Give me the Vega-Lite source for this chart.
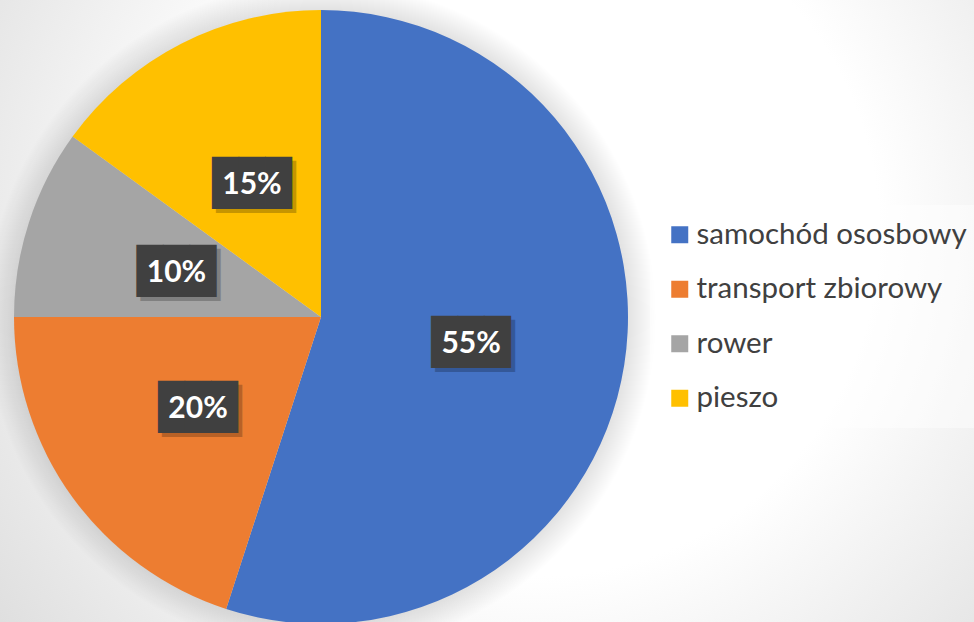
{
  "$schema": "https://vega.github.io/schema/vega-lite/v6.json",
  "width": 974,
  "height": 622,
  "autosize": {"type": "none"},
  "padding": 0,
  "background": "#ffffff",
  "config": {
    "view": {"stroke": null},
    "legend": {
      "orient": "none",
      "legendX": 650,
      "legendY": 205,
      "title": null,
      "symbolType": "square",
      "symbolSize": 289,
      "symbolStrokeWidth": 0,
      "labelFont": "Lato",
      "labelFontSize": 29.5,
      "labelColor": "#404040",
      "labelLimit": 400,
      "rowPadding": 23.5,
      "padding": 15,
      "labelOffset": 2,
      "fillColor": "rgba(255,255,255,0.45)"
    }
  },
  "layer": [
    {
      "data": {"values": [{}]},
      "mark": {
        "type": "rect",
        "fill": {
          "gradient": "radial",
          "x1": 0.55, "y1": 0.42, "r1": 0,
          "x2": 0.55, "y2": 0.42, "r2": 0.75,
          "stops": [
            {"offset": 0, "color": "#ffffff"},
            {"offset": 0.47, "color": "#ffffff"},
            {"offset": 1, "color": "#d8d8d8"}
          ]
        }
      },
      "encoding": {}
    },
    {
      "data": {"values": [{}]},
      "mark": {
        "type": "arc",
        "x": 321,
        "y": 317,
        "outerRadius": 335,
        "fill": {
          "gradient": "radial",
          "x1": 0.5, "y1": 0.5, "r1": 0,
          "x2": 0.5, "y2": 0.5, "r2": 0.5,
          "stops": [
            {"offset": 0, "color": "rgba(0,0,0,0.12)"},
            {"offset": 0.91, "color": "rgba(0,0,0,0.12)"},
            {"offset": 1, "color": "rgba(0,0,0,0)"}
          ]
        }
      },
      "encoding": {}
    },
    {
      "data": {
        "values": [
          {"mode": "samochód ososbowy", "share": 0.55, "rank": 1},
          {"mode": "transport zbiorowy", "share": 0.20, "rank": 2},
          {"mode": "rower", "share": 0.10, "rank": 3},
          {"mode": "pieszo", "share": 0.15, "rank": 4}
        ]
      },
      "encoding": {
        "theta": {"field": "share", "type": "quantitative", "stack": true},
        "order": {"field": "rank", "type": "quantitative"}
      },
      "layer": [
        {
          "mark": {"type": "arc", "x": 321, "y": 317, "outerRadius": 307},
          "encoding": {
            "color": {
              "field": "mode",
              "type": "nominal",
              "scale": {
                "domain": ["samochód ososbowy", "transport zbiorowy", "rower", "pieszo"],
                "range": ["#4472c4", "#ed7d31", "#a5a5a5", "#ffc000"]
              }
            }
          }
        },
        {
          "mark": {
            "type": "text",
            "x": 321,
            "y": 317,
            "text": "███",
            "font": "DejaVu Sans Mono",
            "fontSize": 44,
            "align": "center",
            "baseline": "middle",
            "dx": 4,
            "dy": 7,
            "fill": "#000000",
            "opacity": 0.22
          },
          "encoding": {
            "detail": {"field": "mode"},
            "radius": {"value": 152}
          }
        },
        {
          "mark": {
            "type": "text",
            "x": 321,
            "y": 317,
            "text": "███",
            "font": "DejaVu Sans Mono",
            "fontSize": 44,
            "align": "center",
            "baseline": "middle",
            "dy": 3,
            "fill": "#404040"
          },
          "encoding": {
            "detail": {"field": "mode"},
            "radius": {"value": 152}
          }
        },
        {
          "mark": {
            "type": "text",
            "x": 321,
            "y": 317,
            "font": "Lato",
            "fontWeight": "bold",
            "fontSize": 30,
            "align": "center",
            "baseline": "middle",
            "dy": 3,
            "fill": "#ffffff"
          },
          "encoding": {
            "detail": {"field": "mode"},
            "radius": {"value": 152},
            "text": {"field": "share", "type": "quantitative", "format": ".0%"}
          }
        }
      ]
    }
  ]
}
